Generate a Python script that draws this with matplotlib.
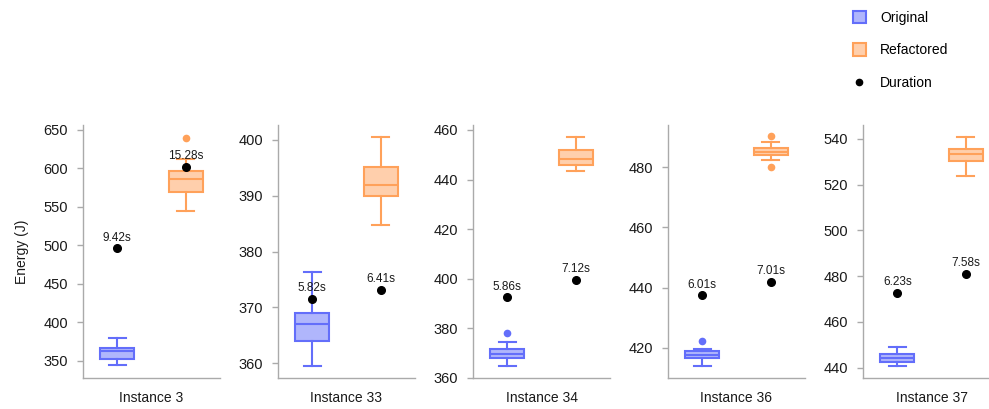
import matplotlib
matplotlib.use('Agg')
import matplotlib.pyplot as plt
from matplotlib.colors import to_rgba
from matplotlib.patches import Patch
from matplotlib.lines import Line2D

plt.rcParams['font.family'] = ['Liberation Sans', 'DejaVu Sans']

# Energy runs per instance, summarised as box statistics
instances = ['Instance 3', 'Instance 33', 'Instance 34', 'Instance 36', 'Instance 37']

orig_low = [344, 359.5, 365.0, 414.0, 440.7]
orig_q1 = [352, 364.0, 367.9, 416.5, 442.4]
orig_med = [362, 367.1, 369.7, 417.8, 444.1]
orig_q3 = [366, 369.1, 371.7, 419.0, 445.9]
orig_high = [380, 376.3, 374.5, 419.6, 449.2]
orig_fliers = [[], [], [378.1], [422.2], []]

refac_low = [545, 384.7, 443.5, 482.4, 523.8]
refac_q1 = [570, 389.9, 445.9, 484.0, 530.4]
refac_med = [586, 391.8, 448.2, 485.2, 533.3]
refac_q3 = [597, 395.1, 452.0, 486.2, 535.8]
refac_high = [612, 400.4, 457.1, 488.2, 540.7]
refac_fliers = [[640], [], [], [490.2, 479.9], []]

# Mean run duration (s) and where its marker sits on the energy axis
orig_duration = [9.42, 5.82, 5.86, 6.01, 6.23]
refac_duration = [15.28, 6.41, 7.12, 7.01, 7.58]
orig_duration_y = [496, 371.6, 392.5, 437.4, 472.8]
refac_duration_y = [601.5, 373.1, 399.5, 441.9, 481.0]

y_limits = [(327.5, 656.5), (357.4, 402.6), (360, 462), (410, 494), (435.5, 546.1)]
y_ticks = [range(350, 651, 50), range(360, 401, 10), range(360, 461, 20),
           range(420, 481, 20), range(440, 541, 20)]

blue = '#636efa'
orange = '#ffa15a'
spine_color = '#aaaaaa'
text_color = '#1a1a1a'

W, H = 989, 409
fig = plt.figure(figsize=(W / 100, H / 100), dpi=100)


def box_stats(i, low, q1, med, q3, high, fliers):
    return {'whislo': low[i], 'q1': q1[i], 'med': med[i], 'q3': q3[i],
            'whishi': high[i], 'fliers': fliers[i]}


for i, name in enumerate(instances):
    left = 83 + 195 * i
    ax = fig.add_axes([left / W, (H - 378) / H, 137 / W, (378 - 125) / H])

    stats = [box_stats(i, orig_low, orig_q1, orig_med, orig_q3, orig_high, orig_fliers),
             box_stats(i, refac_low, refac_q1, refac_med, refac_q3, refac_high, refac_fliers)]
    for pos, st, col in zip([0, 1], stats, [blue, orange]):
        ax.bxp([st], positions=[pos], widths=0.5, patch_artist=True,
               boxprops=dict(facecolor=to_rgba(col, 0.5), edgecolor=col, linewidth=1.5),
               medianprops=dict(color=col, linewidth=1.5),
               whiskerprops=dict(color=col, linewidth=1.5),
               capprops=dict(color=col, linewidth=1.5),
               capwidths=0.25,
               flierprops=dict(marker='o', markerfacecolor=col, markeredgecolor='none',
                               markersize=5.5))

    for pos, dy, dur in zip([0, 1], [orig_duration_y[i], refac_duration_y[i]],
                            [orig_duration[i], refac_duration[i]]):
        ax.plot(pos, dy, 'o', color='black', markersize=5.5, zorder=5)
        ax.annotate(f'{dur:.2f}s', (pos, dy), xytext=(0, 3.5), textcoords='offset points',
                    ha='center', va='bottom', fontsize=8.5, color=text_color)

    ax.set_xlim(-0.5, 1.5)
    ax.set_ylim(*y_limits[i])
    ax.set_yticks(list(y_ticks[i]))
    ax.set_xticks([0.5])
    ax.set_xticklabels([name])
    ax.tick_params(axis='x', length=0, labelsize=10, pad=9, labelcolor=text_color)
    ax.tick_params(axis='y', length=4.3, width=1, color=spine_color, labelsize=10.5,
                   pad=6.5, labelcolor=text_color)
    for side in ['top', 'right']:
        ax.spines[side].set_visible(False)
    for side in ['left', 'bottom']:
        ax.spines[side].set_color(spine_color)
        ax.spines[side].set_linewidth(1)
    if i == 0:
        ax.set_ylabel('Energy (J)', fontsize=10, color=text_color, labelpad=10)

handles = [Patch(facecolor=to_rgba(blue, 0.5), edgecolor=blue, linewidth=1.5, label='Original'),
           Patch(facecolor=to_rgba(orange, 0.5), edgecolor=orange, linewidth=1.5,
                 label='Refactored'),
           Line2D([], [], marker='o', color='black', linestyle='none', markersize=4.5,
                  label='Duration')]
fig.legend(handles=handles, loc='upper left', bbox_to_anchor=(840 / W, 1 + 2 / H),
           frameon=False, fontsize=10, labelspacing=1.35, handlelength=1.0,
           handleheight=1.0, handletextpad=1.0)

fig.savefig('out.png', dpi=100)
